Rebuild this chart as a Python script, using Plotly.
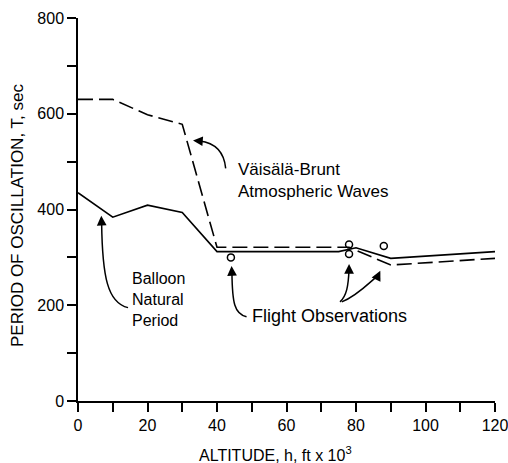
import plotly.graph_objects as go

# ---- data ----
vb_alt = [0, 10, 20, 30, 40, 78, 90, 120]
vb_period = [630, 630, 598, 578, 321, 321, 284, 298]

balloon_alt = [0, 10, 20, 30, 40, 75, 80, 90, 120]
balloon_period = [435, 384, 409, 394, 312, 312, 320, 298, 312]

obs_alt = [44, 78, 78, 88]
obs_period = [300, 327, 307, 324]

x_ticks = list(range(0, 121, 10))
x_labels = [str(v) if v % 20 == 0 else "" for v in x_ticks]
y_ticks = list(range(0, 801, 100))
y_labels = [str(v) if v % 200 == 0 else "" for v in y_ticks]

FONT = "Liberation Sans, Arial, Helvetica, sans-serif"

fig = go.Figure()
fig.add_trace(go.Scatter(x=vb_alt, y=vb_period, mode="lines",
                         line=dict(color="black", width=1.6, dash="15px,6px"),
                         showlegend=False, hoverinfo="skip"))
fig.add_trace(go.Scatter(x=balloon_alt, y=balloon_period, mode="lines",
                         line=dict(color="black", width=1.6),
                         showlegend=False, hoverinfo="skip"))
fig.add_trace(go.Scatter(x=obs_alt, y=obs_period, mode="markers",
                         marker=dict(symbol="circle-open", size=7, color="black",
                                     line=dict(width=1.5, color="black")),
                         showlegend=False, hoverinfo="skip"))

# curved leader lines (data coordinates)
curves = [
    "M 42.5,486 Q 41.8,537 35.0,543",
    "M 14.4,195 C 8.5,205 7.0,260 6.8,372",
    "M 48.5,176 C 45.0,182 44.4,205 44.3,268",
    "M 75.4,207 C 77.3,220 77.8,240 78.0,275",
    "M 75.9,207 C 80.2,219 83.5,245 86.3,262",
]
for p in curves:
    fig.add_shape(type="path", path=p, xref="x", yref="y",
                  line=dict(color="black", width=1.5))

# arrowheads: (tip_x, tip_y, tail_x, tail_y)
heads = [
    (33.1, 544, 36.0, 542.5),
    (6.7, 387, 6.8, 370),
    (44.2, 282, 44.3, 266),
    (78.0, 286, 78.0, 272),
    (87.0, 272, 86.2, 260),
]
for tx, ty, ax, ay in heads:
    fig.add_annotation(x=tx, y=ty, ax=ax, ay=ay, xref="x", yref="y",
                       axref="x", ayref="y", text="", showarrow=True,
                       arrowhead=2, arrowsize=1.3, arrowwidth=1.5,
                       arrowcolor="black", standoff=0, startstandoff=0)

W, H = 508, 463
L, R, T, B = 78, 13, 18, 62
PW, PH = W - L - R, H - T - B

def px(xp):
    return (xp - L) / PW

def py(yp):
    return (H - B - yp) / PH

def label(x, y, text, size=17, **kw):
    fig.add_annotation(x=px(x), y=py(y), xref="paper", yref="paper",
                       text=text, showarrow=False,
                       font=dict(family=FONT, size=size, color="black"), **kw)

label(236, 180, "Väisälä-Brunt<br>Atmospheric Waves", size=17,
      xanchor="left", yanchor="middle", align="left")
label(130, 299, "Balloon<br>Natural<br>Period", size=16,
      xanchor="left", yanchor="middle", align="left")
label(250, 316, "Flight Observations", size=18, xanchor="left", yanchor="middle")

# axis titles
label(275, 454, "ALTITUDE, h, ft x 10<sup>3</sup>", size=16,
      xanchor="center", yanchor="middle")
label(18, 216, "PERIOD OF OSCILLATION, T, sec", size=17, textangle=-90,
      xanchor="center", yanchor="middle")

axis_common = dict(showgrid=False, zeroline=False, showline=True,
                   linecolor="black", linewidth=1.5, ticks="outside",
                   ticklen=9, tickwidth=1.5, tickcolor="black", automargin=False,
                   ticklabeloverflow="allow",
                   tickfont=dict(family=FONT, size=16, color="black"))

fig.update_xaxes(range=[0, 120], tickmode="array", tickvals=x_ticks,
                 ticktext=x_labels, **axis_common)
fig.update_yaxes(range=[0, 800], tickmode="array", tickvals=y_ticks,
                 ticktext=y_labels, **axis_common)

fig.update_layout(width=W, height=H, margin=dict(l=L, r=R, t=T, b=B),
                  paper_bgcolor="white", plot_bgcolor="white",
                  font=dict(family=FONT, color="black"))

fig.write_html("out.html", config={"displayModeBar": False},
               post_script="document.body.style.margin='0';")
